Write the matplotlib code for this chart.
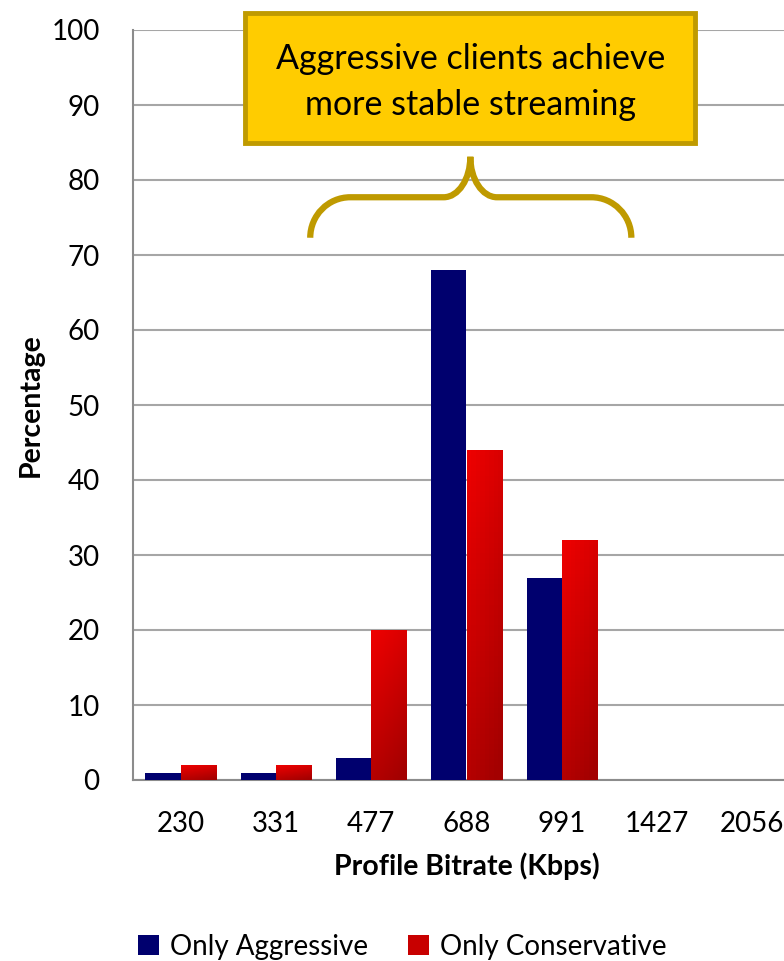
import matplotlib
matplotlib.use("Agg")
import matplotlib.pyplot as plt
import numpy as np
from matplotlib.patches import Patch, FancyBboxPatch
from matplotlib.path import Path
from matplotlib.patches import PathPatch

plt.rcParams["font.family"] = ["Lato", "DejaVu Sans"]

bitrates = ["230", "331", "477", "688", "991", "1427", "2056"]
only_aggressive = [1, 1, 3, 68, 27, 0, 0]
only_conservative = [2, 2, 20, 44, 32, 0, 0]

NAVY = "#00006e"
RED_TOP = "#ee0000"
RED_BOTTOM = "#a30000"
GOLD = "#ffcc00"
GOLD_EDGE = "#bf9a00"
GRID = "#a6a6a6"

fig = plt.figure(figsize=(7.84, 9.61), dpi=100)
ax = fig.add_axes([133 / 784, 181 / 961, 667 / 784, 750 / 961])

x = np.arange(len(bitrates))
width = 0.37

ax.bar(x - width / 2, only_aggressive, width, color=NAVY, zorder=3)
red_bars = ax.bar(x + width / 2, only_conservative, width, color=RED_TOP, zorder=3)

# shade the red bars from bright at the top to deep red at the bottom
grad = np.linspace(0, 1, 64).reshape(-1, 1) * np.ones((1, 8))
grad = grad + np.linspace(0, 0.35, 8).reshape(1, -1)
red_cmap = matplotlib.colors.LinearSegmentedColormap.from_list("redgrad", [RED_TOP, RED_BOTTOM])
for bar in red_bars:
    if bar.get_height() <= 0:
        continue
    x0, y0 = bar.get_x(), bar.get_y()
    img = ax.imshow(grad, cmap=red_cmap, vmin=0, vmax=1.3, aspect="auto",
                    extent=[x0, x0 + bar.get_width(), y0, y0 + bar.get_height()],
                    origin="upper", zorder=3.5)
    img.set_clip_path(bar)

ax.set_xlim(-0.5, len(bitrates) - 0.5)
ax.set_ylim(0, 100)
ax.set_yticks(np.arange(0, 101, 10))
ax.set_xticks(x)
ax.set_xticklabels(bitrates)
ax.tick_params(axis="both", length=0, labelsize=20)
ax.tick_params(axis="y", pad=24)
ax.tick_params(axis="x", pad=22)

ax.yaxis.grid(True, color=GRID, linewidth=1.5, zorder=0)
ax.set_axisbelow(True)
for side in ["top", "right"]:
    ax.spines[side].set_visible(False)
for side in ["left", "bottom"]:
    ax.spines[side].set_color("#8c8c8c")
    ax.spines[side].set_linewidth(1.5)

ax.set_ylabel("Percentage", fontsize=20.5, fontweight="bold")
ax.set_xlabel("Profile Bitrate (Kbps)", fontsize=20.5, fontweight="bold")
ax.yaxis.set_label_coords(-0.154, 0.5)
ax.xaxis.set_label_coords(0.5, -0.115)
ax.xaxis.label.set_va("center")
ax.yaxis.label.set_va("center")

# callout box above the middle groups
box = FancyBboxPatch((0.675, 84.9), 4.725, 17.4, boxstyle="square,pad=0",
                     facecolor=GOLD, edgecolor=GOLD_EDGE, linewidth=3.5,
                     clip_on=False, zorder=5)
ax.add_patch(box)
ax.text(3.04, 93.1, "Aggressive clients achieve\nmore stable streaming",
        ha="center", va="center", fontsize=24.5, linespacing=1.55, zorder=6)

# curly brace spanning the 477-991 groups
bx0, bx1, bm = 1.36, 4.73, 3.04
yb, yh, yt = 72.3, 77.7, 83.1
r, s, k = 0.42, 0.28, 0.552
verts = [
    (bx0, yb),
    (bx0, yb + k * (yh - yb)), (bx0 + r - k * r, yh), (bx0 + r, yh),
    (bm - s, yh),
    (bm - s + k * s, yh), (bm, yt - k * (yt - yh)), (bm, yt),
    (bm, yt - k * (yt - yh)), (bm + s - k * s, yh), (bm + s, yh),
    (bx1 - r, yh),
    (bx1 - r + k * r, yh), (bx1, yb + k * (yh - yb)), (bx1, yb),
]
codes = [Path.MOVETO,
         Path.CURVE4, Path.CURVE4, Path.CURVE4,
         Path.LINETO,
         Path.CURVE4, Path.CURVE4, Path.CURVE4,
         Path.CURVE4, Path.CURVE4, Path.CURVE4,
         Path.LINETO,
         Path.CURVE4, Path.CURVE4, Path.CURVE4]
ax.add_patch(PathPatch(Path(verts, codes), facecolor="none", edgecolor=GOLD_EDGE,
                       linewidth=4.5, capstyle="butt", zorder=5))

handles = [Patch(facecolor=NAVY, label="Only Aggressive"),
           Patch(facecolor="#c80000", label="Only Conservative")]
fig.legend(handles=handles, loc="center", bbox_to_anchor=(0.513, 0.0150),
           ncol=2, frameon=False, fontsize=20, handlelength=0.75,
           handleheight=0.75, handletextpad=0.4, columnspacing=1.45)

fig.savefig("out.png", dpi=100)
